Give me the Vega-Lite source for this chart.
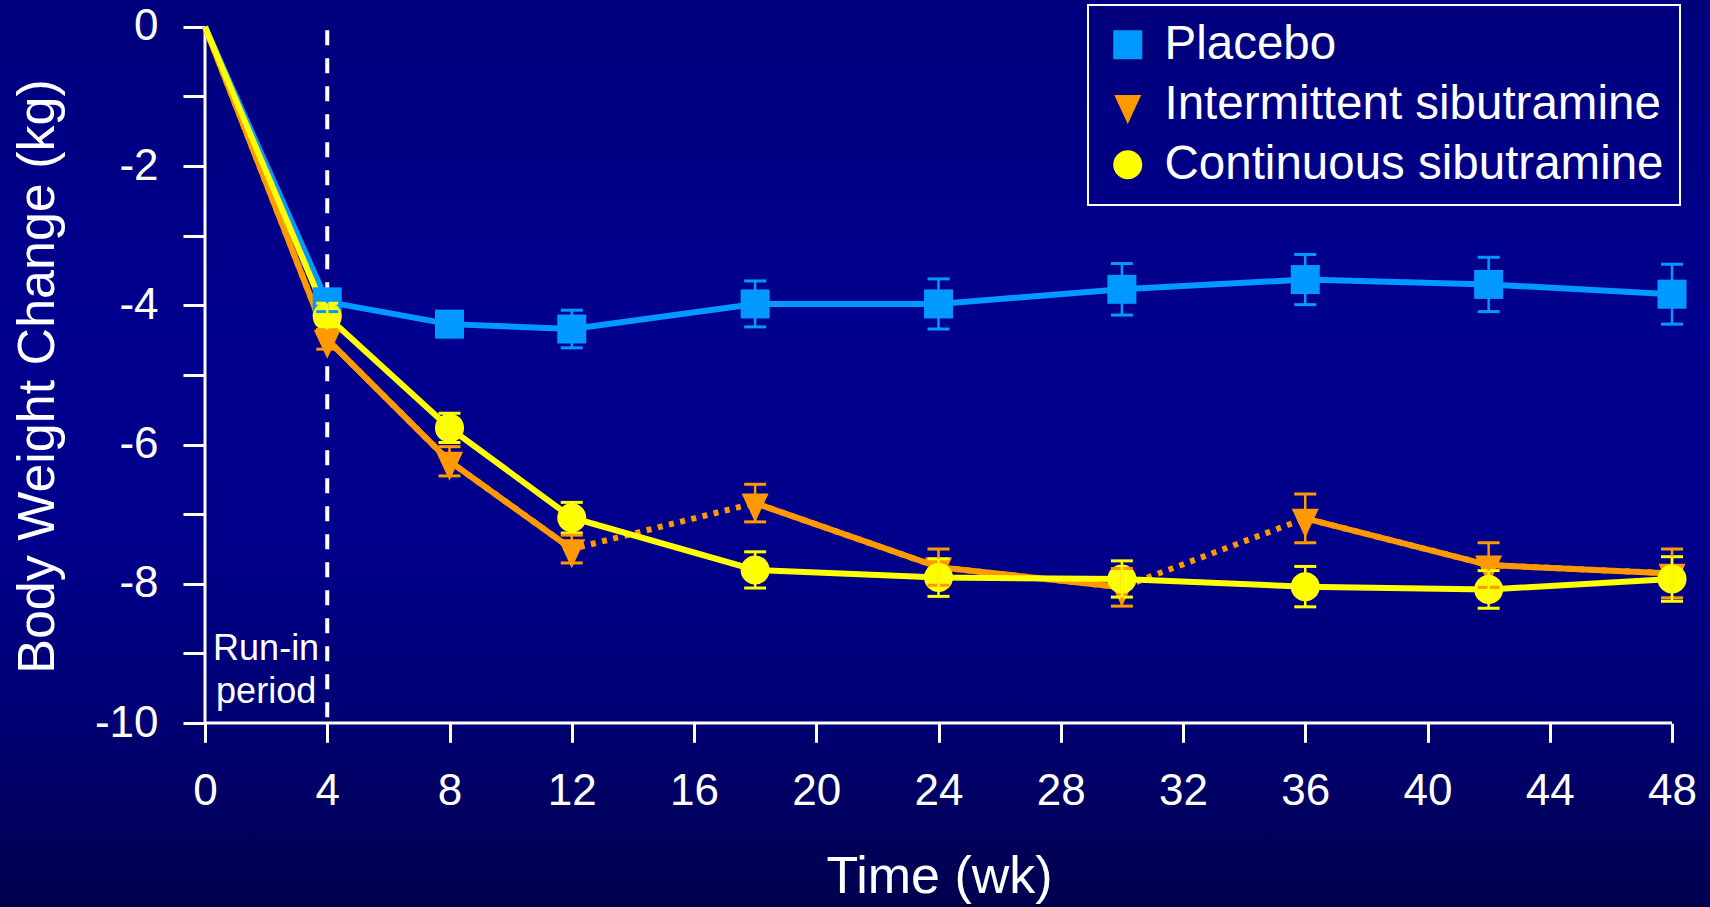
{
  "$schema": "https://vega.github.io/schema/vega-lite/v6.json",
  "width": 1710,
  "height": 907,
  "autosize": {"type": "none"},
  "padding": 0,
  "background": "#000080",
  "config": {
    "view": {
      "stroke": null,
      "fill": {
        "gradient": "linear",
        "x1": 0, "y1": 0, "x2": 0, "y2": 1,
        "stops": [
          {"offset": 0, "color": "#00007C"},
          {"offset": 0.35, "color": "#00008E"},
          {"offset": 0.6, "color": "#00008B"},
          {"offset": 0.8, "color": "#000072"},
          {"offset": 1, "color": "#00004E"}
        ]
      }
    },
    "font": "Liberation Sans",
    "point": {"opacity": 1},
    "tick": {"opacity": 1},
    "rule": {"opacity": 1},
    "legend": {"strokeWidth": 2, "strokeColor": "#FFFFFF", "symbolOpacity": 1}
  },
  "data": {
    "values": [
      {"group": "Placebo", "week": 0, "change": 0, "se": 0, "phase": 1},
      {"group": "Placebo", "week": 4, "change": -3.95, "se": 0.14, "phase": 1},
      {"group": "Placebo", "week": 8, "change": -4.27, "se": 0.18, "phase": 1},
      {"group": "Placebo", "week": 12, "change": -4.34, "se": 0.27, "phase": 1},
      {"group": "Placebo", "week": 18, "change": -3.98, "se": 0.33, "phase": 2},
      {"group": "Placebo", "week": 24, "change": -3.98, "se": 0.36, "phase": 2},
      {"group": "Placebo", "week": 30, "change": -3.77, "se": 0.37, "phase": 2},
      {"group": "Placebo", "week": 36, "change": -3.63, "se": 0.36, "phase": 3},
      {"group": "Placebo", "week": 42, "change": -3.7, "se": 0.39, "phase": 3},
      {"group": "Placebo", "week": 48, "change": -3.84, "se": 0.43, "phase": 3},
      {"group": "Intermittent sibutramine", "week": 0, "change": 0, "se": 0, "phase": 1},
      {"group": "Intermittent sibutramine", "week": 4, "change": -4.49, "se": 0.14, "phase": 1},
      {"group": "Intermittent sibutramine", "week": 8, "change": -6.24, "se": 0.21, "phase": 1},
      {"group": "Intermittent sibutramine", "week": 12, "change": -7.5, "se": 0.2, "phase": 1},
      {"group": "Intermittent sibutramine", "week": 18, "change": -6.84, "se": 0.27, "phase": 2},
      {"group": "Intermittent sibutramine", "week": 24, "change": -7.76, "se": 0.26, "phase": 2},
      {"group": "Intermittent sibutramine", "week": 30, "change": -8.05, "se": 0.27, "phase": 2},
      {"group": "Intermittent sibutramine", "week": 36, "change": -7.06, "se": 0.35, "phase": 3},
      {"group": "Intermittent sibutramine", "week": 42, "change": -7.73, "se": 0.32, "phase": 3},
      {"group": "Intermittent sibutramine", "week": 48, "change": -7.85, "se": 0.35, "phase": 3},
      {"group": "Continuous sibutramine", "week": 0, "change": 0, "se": 0, "phase": 1},
      {"group": "Continuous sibutramine", "week": 4, "change": -4.16, "se": 0.19, "phase": 1},
      {"group": "Continuous sibutramine", "week": 8, "change": -5.76, "se": 0.21, "phase": 1},
      {"group": "Continuous sibutramine", "week": 12, "change": -7.05, "se": 0.22, "phase": 1},
      {"group": "Continuous sibutramine", "week": 18, "change": -7.8, "se": 0.26, "phase": 2},
      {"group": "Continuous sibutramine", "week": 24, "change": -7.91, "se": 0.27, "phase": 2},
      {"group": "Continuous sibutramine", "week": 30, "change": -7.93, "se": 0.26, "phase": 2},
      {"group": "Continuous sibutramine", "week": 36, "change": -8.04, "se": 0.29, "phase": 3},
      {"group": "Continuous sibutramine", "week": 42, "change": -8.08, "se": 0.27, "phase": 3},
      {"group": "Continuous sibutramine", "week": 48, "change": -7.93, "se": 0.32, "phase": 3}
    ]
  },
  "encoding": {
    "x": {
      "field": "week",
      "type": "quantitative",
      "scale": {"domain": [-6.7076, 49.243], "nice": false, "zero": false},
      "axis": {
        "orient": "bottom",
        "offset": -183.7,
        "domain": false,
        "grid": false,
        "values": [0, 4, 8, 12, 16, 20, 24, 28, 32, 36, 40, 44, 48],
        "tickColor": "#FFFFFF",
        "tickWidth": 3,
        "tickSize": 19,
        "labelColor": "#FFFFFF",
        "labelFontSize": 44,
        "labelPadding": 27,
        "labelFont": "Liberation Sans",
        "title": "Time (wk)",
        "titleColor": "#FFFFFF",
        "titleFontSize": 52,
        "titleFontWeight": "normal",
        "titleFont": "Liberation Sans",
        "titleX": 939,
        "titleY": 169,
        "titleBaseline": "alphabetic",
        "titleAlign": "center"
      }
    },
    "y": {
      "field": "change",
      "type": "quantitative",
      "scale": {"domain": [-12.641, 0.385], "nice": false, "zero": false},
      "axis": {
        "orient": "left",
        "offset": -205,
        "domain": false,
        "grid": false,
        "values": [-10, -9, -8, -7, -6, -5, -4, -3, -2, -1, 0],
        "labelExpr": "datum.value % 2 === 0 ? '' + datum.value : ''",
        "tickColor": "#FFFFFF",
        "tickWidth": 3,
        "tickSize": 22,
        "labelColor": "#FFFFFF",
        "labelFontSize": 44,
        "labelPadding": 25,
        "labelFont": "Liberation Sans",
        "labelBaseline": "middle",
        "title": "Body Weight Change (kg)",
        "titleColor": "#FFFFFF",
        "titleFontSize": 52,
        "titleFontWeight": "normal",
        "titleFont": "Liberation Sans",
        "titleAngle": -90,
        "titleX": -152,
        "titleY": 376,
        "titleBaseline": "alphabetic",
        "titleAlign": "center"
      }
    }
  },
  "layer": [
    {
      "transform": [{"filter": "datum.week === 0 && datum.group === 'Placebo'"}],
      "mark": {"type": "rule", "color": "#FFFFFF", "strokeWidth": 3},
      "encoding": {
        "x": {"datum": 0},
        "x2": {"datum": 48},
        "y": {"datum": -10}
      }
    },
    {
      "transform": [{"filter": "datum.week === 0 && datum.group === 'Placebo'"}],
      "mark": {"type": "rule", "color": "#FFFFFF", "strokeWidth": 3},
      "encoding": {
        "x": {"datum": 0},
        "y": {"datum": 0},
        "y2": {"datum": -10}
      }
    },
    {
      "transform": [{"filter": "datum.week === 0 && datum.group === 'Placebo'"}],
      "mark": {"type": "rule", "color": "#FFFFFF", "strokeWidth": 4, "strokeDash": [15, 13]},
      "encoding": {
        "x": {"datum": 4},
        "y": {"datum": -0.05},
        "y2": {"datum": -10}
      }
    },
    {
      "transform": [{"filter": "datum.week === 0 && datum.group === 'Placebo'"}],
      "mark": {"type": "text", "color": "#FFFFFF", "fontSize": 36, "align": "center", "baseline": "alphabetic", "lineHeight": 43, "font": "Liberation Sans", "text": ["Run-in", "period"]},
      "encoding": {
        "x": {"datum": 2},
        "y": {"datum": -9.095}
      }
    },
    {
      "transform": [{"filter": "datum.group === 'Intermittent sibutramine'"}],
      "mark": {"type": "line", "strokeWidth": 6, "strokeDash": [5, 6.5], "strokeCap": "butt"},
      "encoding": {
        "stroke": {"field": "group", "type": "nominal",
          "scale": {"domain": ["Placebo", "Intermittent sibutramine", "Continuous sibutramine"], "range": ["#0099FF", "#FF9900", "#FFFF00"]}},
        "order": {"field": "week", "type": "quantitative"}
      }
    },
    {
      "transform": [{"filter": "datum.group === 'Intermittent sibutramine'"}],
      "mark": {"type": "line", "strokeWidth": 6},
      "encoding": {
        "stroke": {"field": "group", "type": "nominal"},
        "detail": {"field": "phase", "type": "nominal"},
        "order": {"field": "week", "type": "quantitative"}
      }
    },
    {
      "transform": [{"filter": "datum.group !== 'Intermittent sibutramine'"}],
      "mark": {"type": "line", "strokeWidth": 6},
      "encoding": {
        "stroke": {"field": "group", "type": "nominal"},
        "order": {"field": "week", "type": "quantitative"}
      }
    },
    {
      "transform": [{"filter": "datum.week > 0"}],
      "mark": {"type": "point", "filled": true, "opacity": 1, "strokeWidth": 0},
      "encoding": {
        "color": {"field": "group", "type": "nominal", "title": null,
          "scale": {"domain": ["Placebo", "Intermittent sibutramine", "Continuous sibutramine"], "range": ["#0099FF", "#FF9900", "#FFFF00"]},
          "legend": {
            "orient": "none",
            "legendX": 1088,
            "legendY": 5,
            "strokeColor": "#FFFFFF",
            "padding": 16,
            "rowPadding": 11,
            "labelFontSize": 47.5,
            "labelColor": "#FFFFFF",
            "labelFont": "Liberation Sans",
            "labelOffset": 13,
            "labelLimit": 0,
            "symbolStrokeWidth": 0,
            "symbolOpacity": 1,
            "encoding": {
              "symbols": {"update": {"opacity": {"value": 1}, "fillOpacity": {"value": 1}, "strokeWidth": {"value": 0}}}
            }
          }},
        "shape": {"field": "group", "type": "nominal", "title": null,
          "scale": {"domain": ["Placebo", "Intermittent sibutramine", "Continuous sibutramine"], "range": ["square", "M -0.93,-0.667 L 0.93,-0.667 L 0,1.333 Z", "circle"]}},
        "size": {"field": "group", "type": "nominal", "title": null,
          "scale": {"domain": ["Placebo", "Intermittent sibutramine", "Continuous sibutramine"], "range": [841, 841, 729]}}
      }
    },
    {
      "transform": [{"filter": "datum.week > 0"}],
      "mark": {"type": "errorbar", "ticks": {"size": 22, "thickness": 3, "opacity": 1}, "rule": {"strokeWidth": 2.5, "opacity": 1}},
      "encoding": {
        "y": {"field": "change", "type": "quantitative"},
        "yError": {"field": "se"},
        "color": {"field": "group", "type": "nominal"}
      }
    }
  ]
}
